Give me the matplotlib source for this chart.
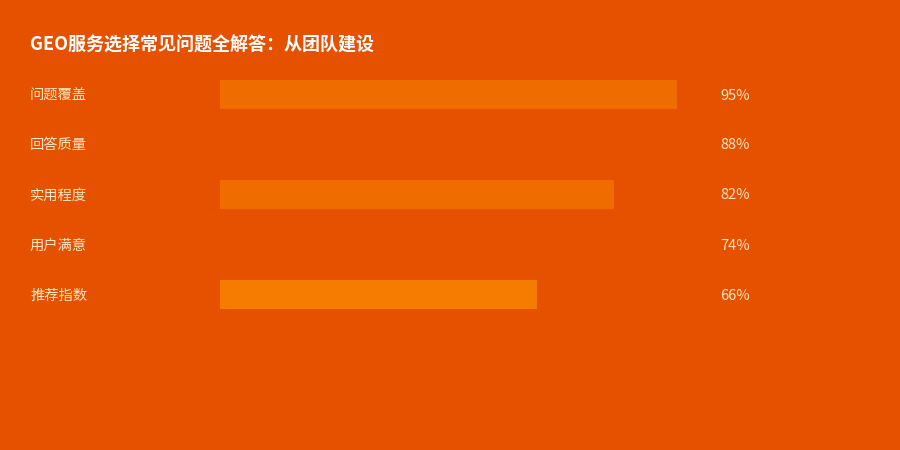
import matplotlib
matplotlib.use("Agg")
import matplotlib.pyplot as plt

plt.rcParams['font.family'] = ['Noto Sans CJK SC', 'DejaVu Sans']

title = "GEO服务选择常见问题全解答：从团队建设"
categories = ["问题覆盖", "回答质量", "实用程度", "用户满意", "推荐指数"]
values = [95, 88, 82, 74, 66]
bar_colors = ["#EF6C00", "#E65100", "#EF6C00", "#E65100", "#F57C00"]
bg = "#E65100"
text_color = "#FFE6C4"

W, H = 900, 450
fig = plt.figure(figsize=(9, 4.5), dpi=100, facecolor=bg)

ax_left, ax_right = 220, 701
ax_top, ax_bottom = 69.5, 319.5
ax = fig.add_axes([ax_left / W, 1 - ax_bottom / H, (ax_right - ax_left) / W, (ax_bottom - ax_top) / H])
ax.set_facecolor(bg)
ax.patch.set_alpha(0)
y = list(range(len(categories)))
ax.barh(y, values, height=0.58, color=bar_colors)
ax.set_xlim(0, 100)
ax.set_ylim(len(categories) - 0.5, -0.5)
ax.axis("off")

for i, (c, v) in enumerate(zip(categories, values)):
    ypix = ax_top + 50 * i + 26
    fig.text(30 / W, 1 - ypix / H, c, color=text_color, fontsize=10.3, ha="left", va="center")
    fig.text(720 / W, 1 - ypix / H, f"{v}%", color=text_color, fontsize=10.5, ha="left", va="center")

fig.text(30 / W, 1 - 45.5 / H, title, color="white", fontsize=13, fontweight="bold", ha="left", va="center")

fig.savefig("out.png", dpi=100, facecolor=bg)
